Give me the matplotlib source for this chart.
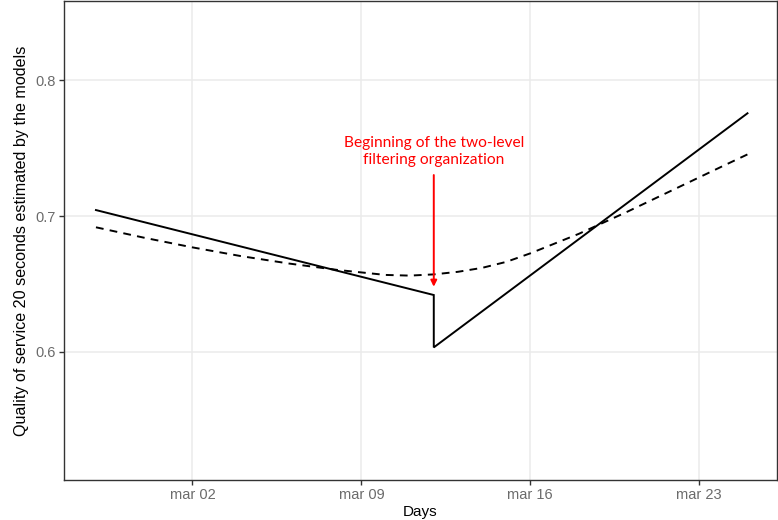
import numpy as np
import pandas as pd
import matplotlib
matplotlib.use('Agg')
import matplotlib.pyplot as plt

# observed series (piecewise linear, break at the start of the new organisation)
obs_dates = pd.to_datetime(['2020-02-27', '2020-03-12', '2020-03-12', '2020-03-25'])
obs_vals = [0.7044, 0.6418, 0.6032, 0.7757]

# smoothed model (dashed)
fit_dates = pd.to_datetime(['2020-02-27', '2020-02-29', '2020-03-02', '2020-03-04',
                            '2020-03-06', '2020-03-08', '2020-03-10', '2020-03-11',
                            '2020-03-12', '2020-03-13', '2020-03-14', '2020-03-15',
                            '2020-03-16', '2020-03-18', '2020-03-20', '2020-03-22',
                            '2020-03-24', '2020-03-25'])
fit_vals = [0.6917, 0.6840, 0.6769, 0.6705, 0.6650, 0.6603, 0.6566, 0.6561,
            0.6570, 0.6589, 0.6618, 0.6662, 0.6725, 0.6868, 0.7030, 0.7200,
            0.7370, 0.7454]

break_date = pd.Timestamp('2020-03-12')
tick_dates = pd.to_datetime(['2020-03-02', '2020-03-09', '2020-03-16', '2020-03-23'])
tick_labels = ['mar 02', 'mar 09', 'mar 16', 'mar 23']
y_ticks = [0.6, 0.7, 0.8]

plt.rcParams['font.family'] = ['Liberation Sans', 'DejaVu Sans']

fig = plt.figure(figsize=(7.78, 5.2), dpi=100)
ax = fig.add_axes([0.0827, 0.0769, 0.9156, 0.9211])

ax.plot(obs_dates, obs_vals, color='black', lw=1.4, solid_joinstyle='miter')
ax.plot(fit_dates, fit_vals, color='black', lw=1.4, ls=(0, (4, 3.2)))

ref = pd.Timestamp('2020-03-02')
ax.set_xlim(ref + pd.Timedelta(days=-5.31), ref + pd.Timedelta(days=24.21))
ax.set_ylim(0.5055, 0.8584)

ax.set_xticks(tick_dates)
ax.set_xticklabels(tick_labels)
ax.set_yticks(y_ticks)
ax.set_yticklabels([f'{v:.1f}' for v in y_ticks])
ax.tick_params(axis='both', length=3.5, width=1, color='#333333',
               labelcolor='#6b6b6b', labelsize=10.5, pad=2.5)

ax.grid(True, color='#ebebeb', lw=1.1)
ax.set_axisbelow(True)
for s in ax.spines.values():
    s.set_color('#333333')
    s.set_linewidth(1.0)

ax.set_xlabel('Days', fontsize=11, labelpad=2)
ax.set_ylabel('Quality of service 20 seconds estimated by the models', fontsize=11.6, labelpad=5)

# annotation
ax.annotate('', xy=(break_date, 0.6479), xytext=(break_date, 0.7302),
            arrowprops=dict(arrowstyle='-|>', color='red', lw=1.4,
                            mutation_scale=9, shrinkA=0, shrinkB=0))
ax.text(break_date, 0.7362, 'Beginning of the two-level\nfiltering organization',
        color='red', ha='center', va='bottom', fontsize=11.2, family=['Lato', 'DejaVu Sans'],
        linespacing=1.3)

fig.savefig('out.png', dpi=100)
